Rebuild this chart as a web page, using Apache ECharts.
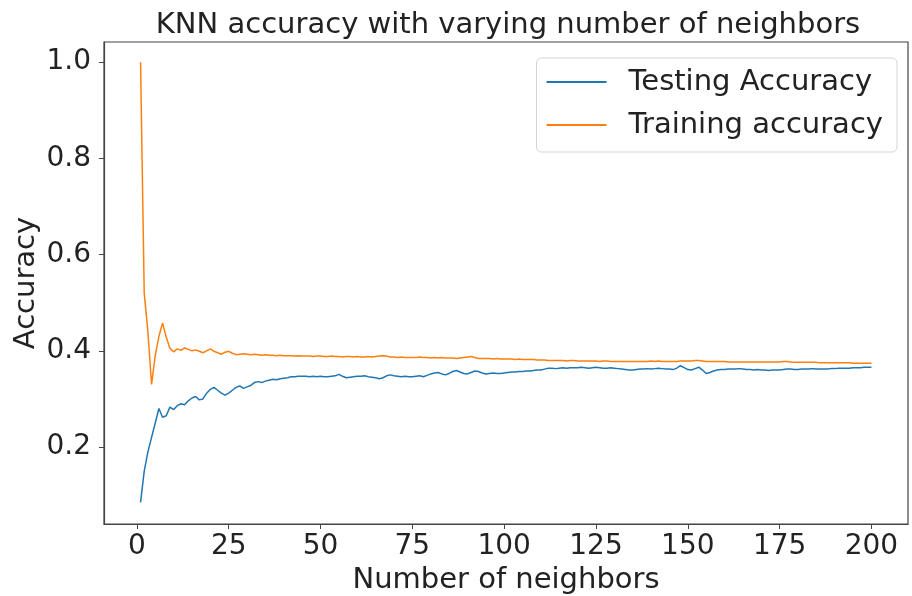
<!DOCTYPE html>
<html>
<head>
<meta charset="utf-8">
<script src="https://cdn.jsdelivr.net/npm/echarts@6/dist/echarts.min.js"></script>
<style>html,body{margin:0;padding:0;background:#fff;}#c{width:912px;height:596px;}</style>
</head>
<body>
<div id="c"></div>
<script>
const titleText = 'KNN accuracy with varying number of neighbors';
const xTicks = [0, 25, 50, 75, 100, 125, 150, 175, 200];
const yTicks = [0.2, 0.4, 0.6, 0.8, 1.0];
const seriesNames = ['Testing Accuracy', 'Training accuracy'];
const testingAccuracy = [
0.085,0.150,0.190,0.220,0.250,0.280,0.262,0.265,0.283,0.278,
0.286,0.290,0.288,0.296,0.302,0.305,0.298,0.300,0.312,0.320,
0.324,0.318,0.312,0.308,0.312,0.318,0.324,0.327,0.322,0.325,
0.328,0.334,0.336,0.334,0.337,0.339,0.341,0.340,0.342,0.343,
0.344,0.346,0.346,0.347,0.347,0.347,0.346,0.347,0.346,0.347,
0.346,0.346,0.347,0.348,0.351,0.347,0.344,0.345,0.346,0.347,
0.347,0.348,0.346,0.345,0.344,0.342,0.344,0.348,0.350,0.348,
0.347,0.346,0.347,0.346,0.346,0.347,0.348,0.346,0.349,0.352,
0.354,0.355,0.352,0.350,0.353,0.357,0.359,0.356,0.353,0.352,
0.355,0.358,0.357,0.354,0.352,0.353,0.354,0.353,0.353,0.354,
0.355,0.356,0.356,0.357,0.357,0.358,0.358,0.359,0.360,0.360,
0.362,0.364,0.364,0.363,0.364,0.365,0.364,0.365,0.365,0.365,
0.366,0.365,0.364,0.365,0.366,0.365,0.364,0.364,0.365,0.364,
0.363,0.362,0.361,0.360,0.360,0.361,0.362,0.362,0.363,0.362,
0.363,0.364,0.363,0.362,0.362,0.361,0.364,0.369,0.365,0.361,
0.360,0.363,0.366,0.360,0.353,0.355,0.358,0.360,0.361,0.361,
0.362,0.362,0.362,0.363,0.362,0.361,0.361,0.360,0.361,0.360,
0.360,0.359,0.360,0.360,0.360,0.361,0.362,0.362,0.361,0.361,
0.362,0.362,0.362,0.363,0.362,0.362,0.362,0.362,0.363,0.363,
0.364,0.364,0.364,0.364,0.365,0.365,0.365,0.366,0.366,0.366
];
const trainingAccuracy = [
1.000,0.520,0.440,0.330,0.390,0.430,0.458,0.428,0.405,0.398,
0.404,0.401,0.406,0.403,0.400,0.402,0.399,0.396,0.400,0.404,
0.399,0.396,0.393,0.397,0.399,0.395,0.392,0.393,0.394,0.393,
0.392,0.393,0.392,0.391,0.392,0.391,0.391,0.390,0.391,0.390,
0.390,0.390,0.389,0.390,0.389,0.389,0.389,0.388,0.389,0.389,
0.388,0.388,0.389,0.388,0.388,0.387,0.388,0.388,0.387,0.388,
0.387,0.387,0.388,0.387,0.388,0.389,0.390,0.389,0.387,0.387,
0.386,0.387,0.386,0.386,0.386,0.386,0.387,0.386,0.386,0.385,
0.386,0.385,0.386,0.385,0.385,0.385,0.384,0.385,0.386,0.387,
0.388,0.386,0.384,0.384,0.384,0.384,0.383,0.384,0.383,0.383,
0.383,0.383,0.382,0.383,0.382,0.382,0.382,0.382,0.381,0.381,
0.381,0.380,0.380,0.380,0.380,0.380,0.379,0.380,0.380,0.379,
0.379,0.379,0.379,0.379,0.379,0.378,0.379,0.379,0.378,0.378,
0.378,0.378,0.378,0.378,0.378,0.378,0.378,0.378,0.378,0.379,
0.378,0.379,0.378,0.378,0.378,0.378,0.378,0.379,0.379,0.379,
0.379,0.380,0.380,0.379,0.378,0.378,0.378,0.378,0.378,0.378,
0.377,0.377,0.377,0.377,0.377,0.377,0.377,0.377,0.377,0.377,
0.377,0.377,0.377,0.377,0.377,0.378,0.378,0.377,0.376,0.376,
0.376,0.376,0.376,0.376,0.376,0.375,0.375,0.375,0.375,0.375,
0.375,0.375,0.375,0.375,0.374,0.374,0.374,0.374,0.374,0.374
];

const FONT = 'DejaVu Sans';
const chart = echarts.init(document.getElementById('c'), null, {renderer: 'canvas'});
const toPairs = arr => arr.map((v, i) => [i + 1, v]);

chart.setOption({
  animation: false,
  backgroundColor: '#ffffff',
  title: {
    text: titleText,
    left: 503,
    textAlign: 'center',
    top: 6,
    textStyle: {fontFamily: FONT, fontSize: 29, fontWeight: 'normal', color: '#222'}
  },
  legend: {
    orient: 'vertical',
    right: 15,
    top: 58,
    padding: [9, 14, 12, 10],
    itemGap: 13,
    itemWidth: 60,
    itemHeight: 2,
    icon: 'rect',
    backgroundColor: 'rgba(255,255,255,0.8)',
    borderColor: '#d4d4d4',
    borderWidth: 1,
    borderRadius: 5,
    textStyle: {fontFamily: FONT, fontSize: 29, lineHeight: 30, color: '#222', padding: [0, 0, 0, 17]},
    data: seriesNames
  },
  grid: {
    left: 104, right: 4, top: 42, bottom: 72,
    show: true, borderColor: '#444', borderWidth: 1.2, backgroundColor: 'transparent',
    containLabel: false,
    outerBoundsMode: 'none'
  },
  xAxis: {
    type: 'value',
    min: -8.95, max: 209.95,
    name: 'Number of neighbors',
    nameLocation: 'middle',
    nameGap: 38,
    nameTextStyle: {fontFamily: FONT, fontSize: 29, color: '#222'},
    axisLine: {show: true, onZero: false, lineStyle: {color: '#444', width: 1.2}},
    axisTick: {show: true, inside: false, length: 5, customValues: xTicks, lineStyle: {color: '#444'}},
    axisLabel: {show: true, customValues: xTicks, margin: 9, fontFamily: FONT, fontSize: 28, color: '#222'},
    splitLine: {show: false}
  },
  yAxis: {
    type: 'value',
    min: 0.04, max: 1.042,
    name: 'Accuracy',
    nameLocation: 'middle',
    nameGap: 63,
    nameMoveOverlap: false,
    nameRotate: 90,
    nameTextStyle: {fontFamily: FONT, fontSize: 29, color: '#222'},
    axisLine: {show: true, onZero: false, lineStyle: {color: '#444', width: 1.2}},
    axisTick: {show: true, inside: false, length: 5, customValues: yTicks, lineStyle: {color: '#444'}},
    axisLabel: {show: true, customValues: yTicks, margin: 13, fontFamily: FONT, fontSize: 28, color: '#222',
      formatter: v => v.toFixed(1)},
    splitLine: {show: false}
  },
  series: [
    {
      name: seriesNames[0], type: 'line', data: toPairs(testingAccuracy),
      symbol: 'none', showSymbol: false,
      lineStyle: {color: '#1f77b4', width: 1.5}, itemStyle: {color: '#1f77b4'}
    },
    {
      name: seriesNames[1], type: 'line', data: toPairs(trainingAccuracy),
      symbol: 'none', showSymbol: false,
      lineStyle: {color: '#ff7f0e', width: 1.5}, itemStyle: {color: '#ff7f0e'}
    }
  ]
});
</script>
</body>
</html>
